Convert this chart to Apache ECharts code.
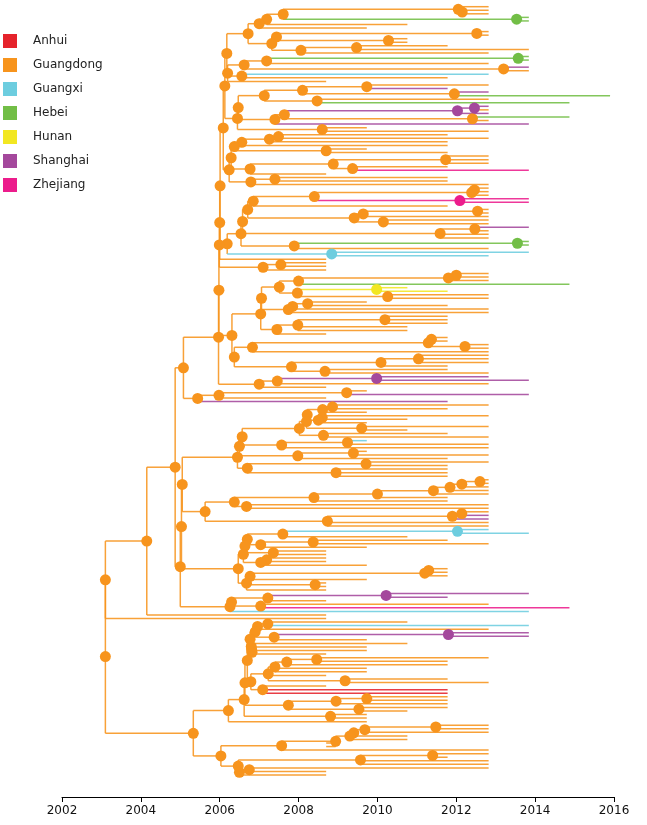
<!DOCTYPE html>
<html><head><meta charset="utf-8">
<script src="https://cdn.jsdelivr.net/npm/echarts@6/dist/echarts.min.js"></script>
<style>html,body{margin:0;padding:0;background:#fff}#c{width:647px;height:825px}</style>
</head><body><div id="c"></div><script>
// ---------- data ----------
const regions = ['Anhui','Guangdong','Guangxi','Hebei','Hunan','Shanghai','Zhejiang'];
const regionCodes = ['A','G','X','H','N','S','Z'];
const regionColors = ['#E5232B','#F7941D','#6DCDDF','#72BE46','#F2E722','#A4489C','#EC1C8C'];
const tipCodes = ['a','b','c','d','e','f','g','h'];
const tipDates = [2008.7,2009.73,2010.76,2011.78,2012.82,2013.84,2014.87,2015.9];
const xTicks = [2002,2004,2006,2008,2010,2012,2014,2016];

// tree clades: leaf = Region+tipCode, internal = (children)Region+date
const c1 = "((Ge,(Ge,Ge)G2012.15)G2012.05,(Hf,Hf)H2013.53)G2007.61";
const a3 = `((${c1},Gc)G2007.19,Gb)G2007.0`;
const a5 = "(((Ge,Ge)G2012.52,(Gc,Gc)G2010.28)G2007.44,((Gd,Gf)G2009.47,Ge)G2008.06)G2007.32";
const b1 = "(((Hf,Hf)H2013.57,Ge)G2007.19,(Sf,Gf)G2013.2)G2006.62";
const n52 = `((${a3},${a5})G2006.72,(${b1},(Xe,Gd)G2006.56,Ga)G2006.2)G2006.18`;
const c2u = "(((Ge,Sd)G2009.73,(Se,Hh)G2011.95)G2008.1,(Ge,Hg)G2008.47)G2007.13";
const c2v = "((((Se,Ge)S2012.46,Se)S2012.03,(Hg,Ge)G2012.41)G2007.64,Sf)G2007.4";
const n86 = `(${n52},((${c2u},${c2v})G2006.47,(Gb,Ge)G2008.6)G2006.45)G2006.13`;
const d1a = "((((Gd,Ge)G2007.49,Gd)G2007.26,Gd)G2006.56,(Gb,Gd)G2008.7)G2006.37";
const d1b = "(((Ge,Ge,Ge)G2011.73,(Gd,Zf)G2009.37)G2008.88,Ga)G2006.77";
const d2 = "((Gd,Gd)G2007.4,Ge)G2006.79";
const n128 = `(${n86},((${d1a},${d1b})G2006.29,${d2})G2006.24)G2006.09`;
const f658 = "(((Ge,Ge)G2012.46,Ge)G2012.39,(Zf,Zf)Z2012.09)G2008.4";
const f778 = "(((Ge,Ge)G2012.54,Ge)G2009.64,(Ge,Ge)G2010.15)G2009.41";
const f443 = `(((${f658},Gd)G2006.85,${f778})G2006.71,((Sf,Ge)G2012.47,Ge,Ge)G2011.59)G2006.58`;
const fClade = `((${f443},((Hf,Hf)H2013.55,Ge)G2007.89)G2006.54,(Xf,Xe)X2008.84)G2006.19`;
const n245 = `(((${n128},${fClade})G2006.01,Ga)G2006.0,((Ga,Ga)G2007.55,Ga)G2007.1)G2005.99`;
const p610 = "(((Ge,Ge)G2012.0,Ge)G2011.8,Hg)G2008.0";
const p607 = "((Nc,Nd)N2009.98,(Ge,Ge)G2010.26)G2007.97";
const p580 = "(((Gb,Gd)G2008.23,Ge)G2007.85,Ge)G2007.74";
const p545 = "(((Gd,Gd,Gd)G2010.19,Gc,Gc)G2007.98,Ga)G2007.45";
const m263 = `(((${p610},${p607})G2007.51,${p580})G2007.06,${p545})G2007.04`;
const m418 = "((((Gd,Gd)G2011.37,(Ge,Ge)G2012.22)G2011.29,Ge)G2006.83,(((Ge,Ge,Ge)G2011.04,Gd)G2010.09,(Gd,Ge)G2008.67)G2007.82)G2006.37";
const n336 = `((${n245},(${m263},${m418})G2006.31)G2005.98,(((Se,Sf)S2009.98,Ge)G2007.46,Ga)G2007.0)G2005.97`;
const n366 = `(${n336},(((Gb,Sf)G2009.22,Ga)G2005.98,Sd)G2005.44)G2005.08`;
const q613 = "(((((Ge,Gd)G2008.86,Gb)G2008.61,((Ge,Gc)G2008.6,Gb)G2008.5)G2008.22,(Ge,Gc)G2009.6)G2008.2,(Gd,Ge)G2008.63)G2008.02";
const q433 = `((${q613},((Xb,Ge)G2009.24,Ge)G2007.57)G2006.57,((Gb,Ge)G2009.39,Gd)G2007.98)G2006.5`;
const n459 = `(${q433},((Ge,Gd)G2009.71,(Gd,Gd,Gd)G2008.95)G2006.7)G2006.45`;
const qChain = "((((Ge,Ge)G2012.6,Ge)G2012.14,Ge)G2011.84,Ge)G2011.42";
const n511 = `((((${qChain},Gd)G2010.0,Gd)G2008.39,(Ge,Ge)G2006.68)G2006.37,(((Ge,Se)G2012.14,Se)G2011.9,Ge,Ge)G2008.73)G2005.63`;
const r445 = "(((((Xe,Xf)X2012.03,Gc)G2007.6,((Gd,Ge)G2008.37,Gb)G2007.04)G2006.7,(Ga,Ga)G2007.36)G2006.64,((Ga,Ga)G2007.19,Gb)G2007.04)G2006.6";
const r584 = "((((Gd,Gd)G2011.3,Gd)G2011.2,Gb)G2006.77,(Ga,Ga)G2008.42,Ga)G2006.68";
const n526 = `((${n459},${n511})G2005.05,(${r445},${r584})G2006.47)G2005.03`;
const n607 = "((((Sf,Sd)S2010.22,Ga)G2007.22,(Ge,Zg)G2007.04)G2006.3,Xf)G2006.26";
const n580 = `(((${n366},(${n526},${n607})G2005.0)G2004.87,Ga)G2004.15,Ga)G2003.1`;
const chainA = "((((Gc,Xf)G2007.22,Ge)G2006.96,((Sf,Sf)S2011.8,Gb)G2007.38)G2006.9,(Gc,(Gb,(Gb,Ga)G2006.82)G2006.81)G2006.8)G2006.77";
const r520 = "((((Ge,Gd)G2008.46,Gd)G2007.7,Gb,Gb)G2007.4,Ga,(Gd,Ge)G2009.18)G2007.23";
const r580 = "(((Gd,Gd)G2009.73,Gd)G2008.95,(Gd,Gc)G2009.53)G2007.74";
const n709 = `((((${chainA},(${r520},(Ga,Ad,Ad)G2007.09)G2006.79)G2006.7,${r580})G2006.64,(Gb,Gb)G2008.81)G2006.62,Gb)G2006.22`;
const r560 = "((((((Ge,Ge)G2011.48,Ge)G2009.68,Gc)G2009.4,Gc)G2009.3,Ga,Ga)G2008.94,Ge)G2007.57";
const r430 = "(((Ge,Gd)G2011.4,Ge,Ge)G2009.57,((Ge,Ga)G2006.75,Ga)G2006.5)G2006.47";
const n733 = `(${n709},(${r560},${r430})G2006.03)G2005.33`;
const treeText = `(${n580},${n733})G2003.1`;

// ---------- parse & layout ----------
function parseTree(s){
  let i = 0;
  function label(n){
    n.region = regionCodes.indexOf(s[i++]);
    const m = /^([0-9.]+|[a-h])/.exec(s.slice(i));
    i += m[0].length;
    n.date = /[a-h]/.test(m[0]) ? tipDates[tipCodes.indexOf(m[0])] : parseFloat(m[0]);
  }
  function node(){
    const n = {children:[]};
    if (s[i] === '('){
      i++;
      for(;;){ n.children.push(node()); const ch = s[i++]; if (ch === ')') break; }
    }
    label(n);
    return n;
  }
  return node();
}
const root = parseTree(treeText);
let leafCount = 0;
(function layout(n){
  if (!n.children.length){ n.y = ++leafCount; return; }
  n.children.forEach(layout);
  n.y = (n.children[0].y + n.children[n.children.length-1].y) / 2;
})(root);

const segs = [];
const nodesByRegion = regions.map(() => []);
(function collect(n, parent){
  if (parent) segs.push([parent.date, n.y, n.date, n.y, n.region]);
  if (n.children.length){
    segs.push([n.date, n.children[0].y, n.date, n.children[n.children.length-1].y, n.region]);
    n.children.forEach(c => collect(c, n));
    nodesByRegion[n.region].push([n.date, n.y]);
  }
})(root, null);

const rowPx = 3.557;
const yMin = 1 - 6.7 / rowPx;
const yMax = yMin + 797 / rowPx;

const chart = echarts.init(document.getElementById('c'), null, {renderer:'canvas'});
const font = 'DejaVu Sans';
chart.setOption({
  animation:false,
  grid:{left:62,right:33,top:0,bottom:28,containLabel:false},
  xAxis:{type:'value',position:'bottom',min:xTicks[0],max:xTicks[xTicks.length-1],interval:2,
    axisLine:{show:true,onZero:false,lineStyle:{color:'#000',width:1}},
    axisTick:{show:true,length:5,lineStyle:{color:'#000'}},
    axisLabel:{fontSize:12,color:'#111',fontFamily:font,margin:8,formatter:v=>String(v)},
    splitLine:{show:false}},
  yAxis:{type:'value',inverse:true,min:yMin,max:yMax,show:false},
  legend:{data:regions,orient:'vertical',left:3,top:34,padding:0,icon:'rect',itemWidth:14,itemHeight:14,itemGap:10,
    selectedMode:false,textStyle:{fontSize:12,color:'#222',fontFamily:font,padding:[0,0,0,11]}},
  series:[
    {type:'custom',silent:true,z:2,clip:false,data:segs,encode:{x:[0,2],y:[1,3]},
     renderItem:(params,api)=>{
       const a = api.coord([api.value(0), api.value(1)]);
       const b = api.coord([api.value(2), api.value(3)]);
       return {type:'line',shape:{x1:a[0],y1:a[1],x2:b[0],y2:b[1]},
         style:{stroke:regionColors[api.value(4)],lineWidth:1.5,opacity:0.88}};
     }},
    ...regions.map((r,k)=>({name:r,type:'scatter',z:3,symbol:'circle',symbolSize:11,
      itemStyle:{color:regionColors[k],opacity:1},data:nodesByRegion[k],silent:true}))
  ]
});
</script></body></html>
